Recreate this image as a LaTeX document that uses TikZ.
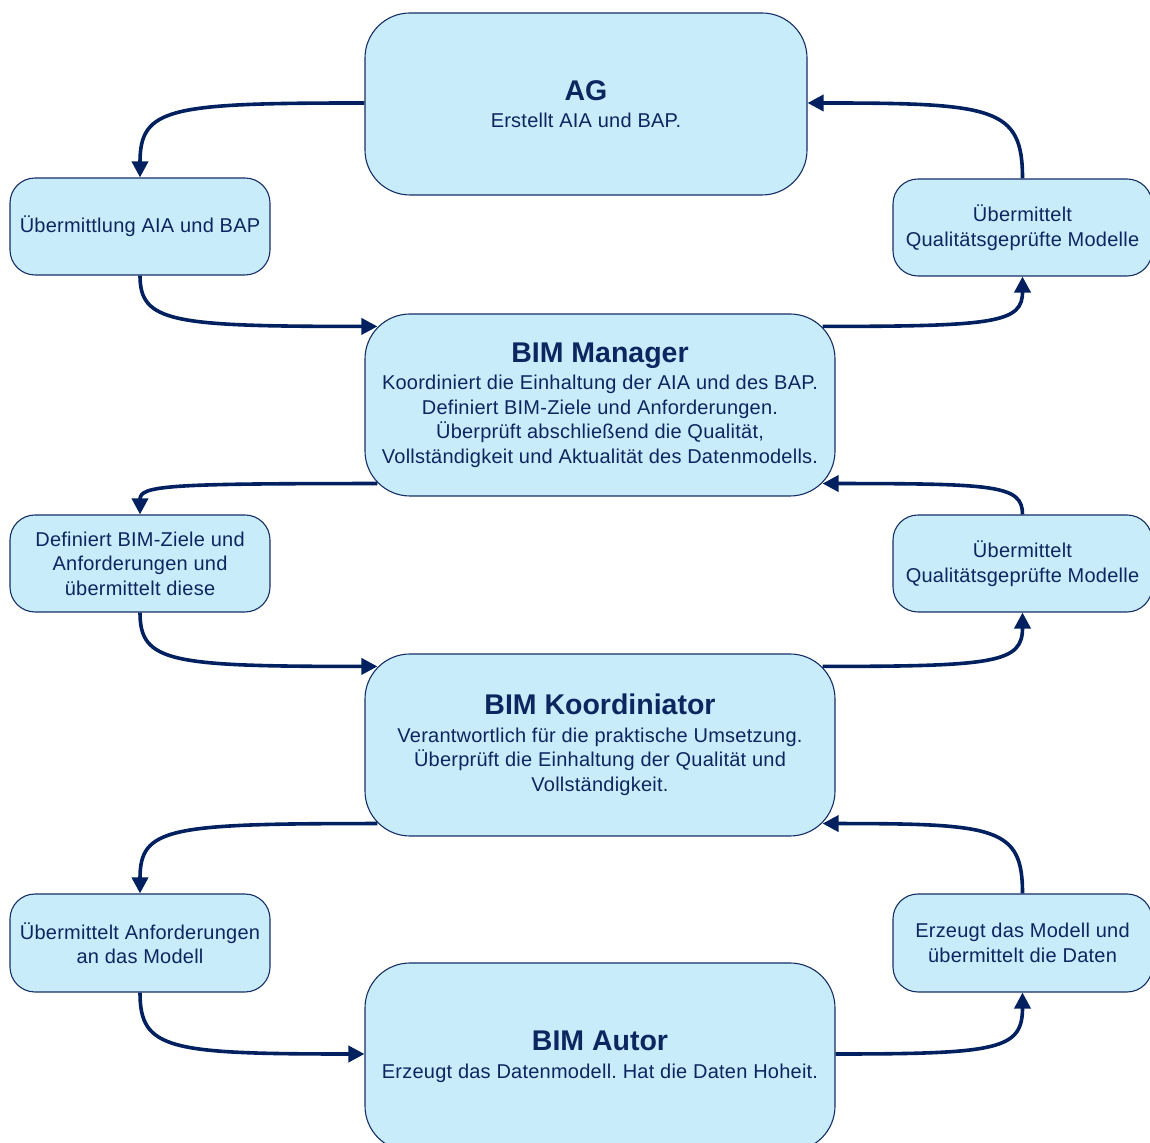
\documentclass[tikz,border=0pt]{standalone}
\usepackage{fontspec}
\setmainfont{Liberation Sans}
\newfontfamily\bodyfont[LetterSpace=1.2]{Liberation Sans}
\usetikzlibrary{arrows.meta}
\frenchspacing

\definecolor{boxfill}{RGB}{200,236,250}
\definecolor{boxline}{RGB}{22,46,102}
\definecolor{flow}{RGB}{0,32,96}
\definecolor{ink}{RGB}{12,38,96}

\tikzset{
  role/.style={draw=boxline, line width=1.1pt, fill=boxfill, rounded corners=45pt,
    inner sep=0pt, align=center, text=ink,
    font=\bodyfont\fontsize{20}{24.5}\selectfont},
  task/.style={draw=boxline, line width=1.1pt, fill=boxfill, rounded corners=25pt,
    inner sep=0pt, align=center, text=ink, minimum width=260pt, minimum height=97pt,
    font=\bodyfont\fontsize{20}{24.5}\selectfont},
  link/.style={draw=flow, line width=3.6pt, -{Triangle[length=16pt,width=16pt]}}
}
\newcommand{\roletitle}[1]{{\rmfamily\fontsize{28.5}{30}\selectfont\bfseries #1}\\[3pt]}

\begin{document}
\begin{tikzpicture}[x=1pt,y=1pt]
\useasboundingbox (0,0) rectangle (1150,1142);
\clip (0,0) rectangle (1150,1142);

% main roles
\node[role, minimum width=442pt, minimum height=182pt] (ag) at (586,1038)
  {\roletitle{AG}Erstellt AIA und BAP.};
\node[role, minimum width=470pt, minimum height=182pt] (mgr) at (600,737)
  {\roletitle{BIM Manager}Koordiniert die Einhaltung der AIA und des BAP.\\
   Definiert BIM-Ziele und Anforderungen.\\
   Überprüft abschließend die Qualität,\\
   Vollständigkeit und Aktualität des Datenmodells.};
\node[role, minimum width=470pt, minimum height=182pt] (koo) at (600,397)
  {\roletitle{BIM Koordiniator}Verantwortlich für die praktische Umsetzung.\\
   Überprüft die Einhaltung der Qualität und\\
   Vollständigkeit.};
\node[role, minimum width=470pt, minimum height=188pt] (aut) at (600,85)
  {\roletitle{BIM Autor}Erzeugt das Datenmodell. Hat die Daten Hoheit.};

% hand-over steps
\node[task] (l1) at (140,915.5) {Übermittlung AIA und BAP};
\node[task, minimum width=259pt] (r1) at (1022.5,914.5) {Übermittelt\\Qualitätsgeprüfte Modelle};
\node[task] (l2) at (140,578.5) {Definiert BIM-Ziele und\\Anforderungen und\\übermittelt diese};
\node[task, minimum width=259pt] (r2) at (1022.5,578.5) {Übermittelt\\Qualitätsgeprüfte Modelle};
\node[task, minimum height=98pt] (l3) at (140,199) {Übermittelt Anforderungen\\an das Modell};
\node[task, minimum width=259pt, minimum height=98pt] (r3) at (1022.5,199) {Erzeugt das Modell und\\übermittelt die Daten};

% downward flow on the left
\draw[link] ([yshift=1pt]ag.west) .. controls +(-195,0) and +(0,70) .. (l1.north);
\draw[link] (l1.south) .. controls +(0,-47) and +(-205,0) .. ([xshift=13pt,yshift=-13pt]mgr.north west);
\draw[link] ([xshift=13pt,yshift=13pt]mgr.south west) .. controls +(-209,0) and +(0,29) .. (l2.north);
\draw[link] (l2.south) .. controls +(0,-50) and +(-207,0) .. ([xshift=13pt,yshift=-13pt]koo.north west);
\draw[link] ([xshift=13pt,yshift=13pt]koo.south west) .. controls +(-209,0) and +(0,66) .. (l3.north);
\draw[link] (l3.south) .. controls +(0,-57) and +(-196,0) .. ([yshift=3pt]aut.west);

% upward flow on the right
\draw[link] ([yshift=3pt]aut.east) .. controls +(163,0) and +(0,-57) .. (r3.south);
\draw[link] (r3.north) .. controls +(0,66) and +(174,0) .. ([xshift=-13pt,yshift=13pt]koo.south east);
\draw[link] ([xshift=-13pt,yshift=-13pt]koo.north east) .. controls +(174,0) and +(0,-50) .. (r2.south);
\draw[link] (r2.north) .. controls +(0,29) and +(174,0) .. ([xshift=-13pt,yshift=13pt]mgr.south east);
\draw[link] ([xshift=-13pt,yshift=-13pt]mgr.north east) .. controls +(174,0) and +(0,-46) .. (r1.south);
\draw[link] (r1.north) .. controls +(0,71) and +(187,0) .. ([yshift=1pt]ag.east);
\end{tikzpicture}
\end{document}
